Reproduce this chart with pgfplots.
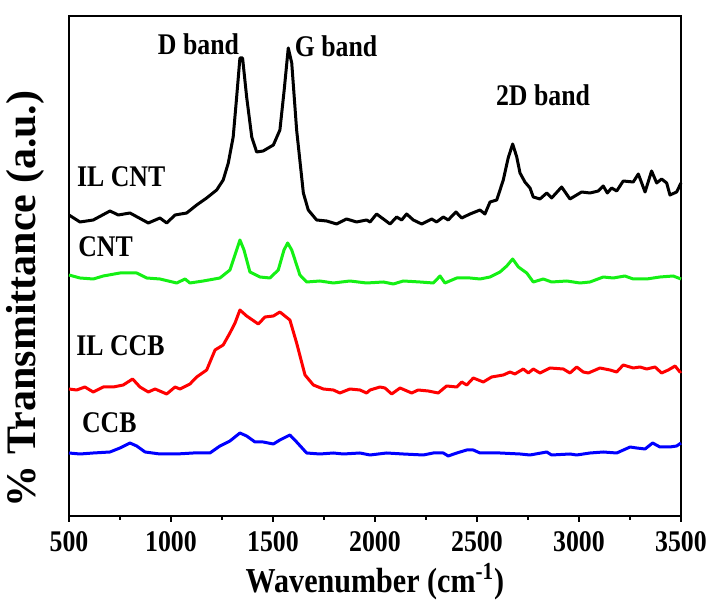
\documentclass[border=0pt]{standalone}
\usepackage{pgfplots}
\pgfplotsset{compat=1.18}
\usepackage{fontspec}
\setmainfont{Liberation Serif}[FakeStretch=0.86]
\newfontfamily\ylfont{Liberation Serif}
\definecolor{cntgreen}{RGB}{20,240,20}

\pgfplotstableread{
x y
500 301
554 294
619 296
701 305
742 301
799 303
889 293
946 298
979 293
1020 301
1077 303
1126 311
1175 318
1224 326
1256 336
1281 353
1305 379
1322 419
1338 458
1351 458
1371 419
1396 379
1420 364
1452 365
1502 371
1534 386
1555 426
1575 468
1592 453
1616 386
1649 323
1673 306
1714 296
1763 295
1812 292
1861 297
1910 294
1959 296
1976 294
2008 302
2074 292
2106 299
2131 296
2155 302
2188 296
2229 292
2278 297
2302 294
2335 299
2359 296
2397 304
2425 298
2466 302
2515 306
2539 302
2564 314
2597 316
2629 336
2653 358
2675 372
2695 359
2711 343
2735 334
2760 328
2776 319
2809 317
2842 323
2866 318
2915 329
2956 317
3013 324
3054 323
3095 325
3119 330
3139 323
3160 328
3185 325
3217 335
3266 334
3291 342
3324 324
3356 345
3381 333
3405 337
3430 333
3446 321
3479 324
3500 333
}\ilcnt

\pgfplotstableread{
x y
500 241
554 238
619 237
668 240
750 243
832 243
881 238
946 237
1028 233
1069 237
1093 233
1158 235
1240 238
1289 246
1322 266
1338 276
1358 266
1387 244
1436 239
1485 238
1526 246
1554 266
1572 273
1592 266
1632 241
1665 234
1730 235
1796 233
1877 235
1959 233
2041 234
2090 232
2139 235
2221 234
2286 233
2319 240
2343 233
2401 238
2466 238
2515 237
2564 239
2613 244
2646 250
2675 257
2703 249
2744 243
2776 234
2825 237
2866 234
2940 235
3005 233
3054 234
3119 239
3168 238
3225 240
3266 237
3332 237
3397 239
3462 240
3500 237
}\cnt

\pgfplotstableread{
x y
500 127
538 126
578 129
619 124
668 129
717 129
766 131
812 137
848 129
889 124
922 127
979 122
1020 129
1044 127
1093 132
1126 139
1175 146
1216 166
1256 171
1289 183
1314 193
1338 206
1371 200
1428 192
1461 199
1502 200
1534 204
1583 196
1616 173
1657 141
1698 131
1747 127
1796 126
1828 123
1877 127
1926 126
1959 123
1976 126
2025 129
2049 128
2082 122
2123 128
2180 123
2212 126
2261 125
2310 123
2351 130
2401 129
2425 134
2450 131
2482 138
2531 134
2572 139
2629 141
2662 144
2686 142
2727 147
2752 143
2776 147
2809 143
2858 148
2923 147
2956 143
2989 149
3021 144
3046 143
3103 148
3152 146
3185 144
3217 151
3266 148
3299 149
3332 147
3373 149
3405 143
3438 146
3471 150
3495 144
3500 145
}\ilccb

\pgfplotstableread{
x y
500 63
554 62
619 63
701 64
750 68
799 73
832 70
873 64
946 62
1028 62
1109 63
1191 63
1240 70
1289 75
1338 83
1371 80
1412 74
1452 74
1502 72
1534 76
1583 81
1616 74
1665 63
1730 62
1796 63
1845 62
1926 63
1976 61
2057 63
2139 62
2237 61
2286 63
2335 63
2359 60
2401 63
2450 66
2482 66
2515 63
2613 63
2711 62
2760 61
2842 64
2866 61
2956 62
2989 61
3054 63
3119 64
3185 63
3251 69
3283 68
3324 67
3361 73
3397 69
3446 69
3479 70
3500 73
}\ccb

\begin{document}
\begin{tikzpicture}
\begin{axis}[
  scale only axis,
  width=306pt, height=250pt,
  xmin=500, xmax=3500, ymin=0, ymax=500,
  xtick={500,1000,1500,2000,2500,3000,3500},
  minor x tick num=1,
  ytick=\empty,
  xtick pos=bottom,
  tick align=outside,
  major tick length=3pt,
  minor tick length=2pt,
  every tick/.style={black, line width=0.9pt},
  axis line style={line width=1pt},
  clip=false,
  /pgf/number format/assume math mode=true,
  /pgf/number format/1000 sep={},
  xticklabel style={font=\bfseries\fontsize{15}{17}\selectfont, yshift=-3.5pt, inner sep=1pt},
  xlabel={Wavenumber (cm\textsuperscript{-1})},
  xlabel style={font=\bfseries\fontsize{17.5}{20}\selectfont, at={(axis description cs:0.5,-0.131)}, anchor=center, inner sep=0pt},
  ylabel={\% Transmittance (a.u.)},
  ylabel style={font=\ylfont\bfseries\fontsize{21}{24}\selectfont, at={(axis description cs:-0.071,0.434)}, anchor=center, rotate=0, inner sep=0pt},
  every axis plot/.append style={line width=1.5pt, line join=round},
]
\addplot[black] table {\ilcnt};
\addplot[cntgreen] table {\cnt};
\addplot[red] table {\ilccb};
\addplot[blue] table {\ccb};

\node[font=\bfseries\fontsize{15}{17}\selectfont] at (axis cs:1135,472) {D band};
\node[font=\bfseries\fontsize{15}{17}\selectfont] at (axis cs:1809,470) {G band};
\node[font=\bfseries\fontsize{15}{17}\selectfont] at (axis cs:2824,421) {2D band};
\node[font=\bfseries\fontsize{15}{17}\selectfont, anchor=west, inner sep=0pt] at (axis cs:538,339) {IL CNT};
\node[font=\bfseries\fontsize{15}{17}\selectfont, anchor=west, inner sep=0pt] at (axis cs:544,269) {CNT};
\node[font=\bfseries\fontsize{15}{17}\selectfont, anchor=west, inner sep=0pt] at (axis cs:534,170) {IL CCB};
\node[font=\bfseries\fontsize{15}{17}\selectfont, anchor=west, inner sep=0pt] at (axis cs:562,93) {CCB};

\path (rel axis cs:-0.1127,1.032) rectangle (rel axis cs:1.0458,-0.152);
\end{axis}
\end{tikzpicture}
\end{document}
